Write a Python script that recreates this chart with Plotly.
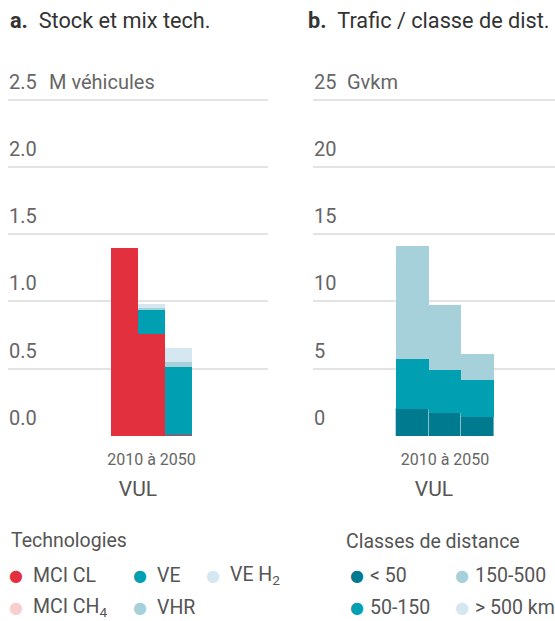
import plotly.graph_objects as go

# ---- data -------------------------------------------------------------
periods = [0, 1, 2]                      # 2010, intermediate step, 2050
period_label = "2010 à 2050"
segment = "VUL"

# a. fleet by technology (million vehicles)
tech_names = ["MCI CL", "MCI CH<sub>4</sub>", "VE", "VHR", "VE H<sub>2</sub>"]
tech_colors = ["#e3303f", "#f8cfcf", "#009fb2", "#a7d1da", "#d5e7f0"]
mci_cl = [1.40, 0.76, 0.01]
mci_ch4 = [0.0, 0.0, 0.0]
ve = [0.0, 0.18, 0.51]
vhr = [0.0, 0.015, 0.037]
ve_h2 = [0.0, 0.03, 0.104]
tech_values = [mci_cl, mci_ch4, ve, vhr, ve_h2]

stock_ticks = [0, 0.5, 1, 1.5, 2, 2.5]
stock_ticktext = ["0.0", "0.5", "1.0", "1.5", "2.0", "2.5"]
stock_unit = "M véhicules"

# b. traffic by distance class (billion vehicle-km)
dist_names = ["< 50", "50-150", "150-500", "> 500 km"]
dist_colors = ["#007a8e", "#009fb2", "#a7d1da", "#d5e7f0"]
d_lt50 = [2.04, 1.74, 1.46]
d_50_150 = [3.73, 3.22, 2.75]
d_150_500 = [8.40, 4.82, 1.93]
d_gt500 = [0.0, 0.0, 0.0]
dist_values = [d_lt50, d_50_150, d_150_500, d_gt500]

traffic_ticks = [0, 5, 10, 15, 20, 25]
traffic_ticktext = ["0", "5", "10", "15", "20", "25"]
traffic_unit = "Gvkm"

# ---- styling ----------------------------------------------------------
FONT = "Roboto, Arial, sans-serif"
GRID = "#e3e3e3"
TICK_GREY = "#666666"
TEXT_GREY = "#555555"
W, H = 555, 621


def px_x(x):
    return x / W


def px_y(y):
    return 1 - y / H


fig = go.Figure()

for name, color, vals in zip(tech_names, tech_colors, tech_values):
    fig.add_trace(go.Bar(
        x=periods, y=vals, width=1, name=name,
        marker=dict(color=color, line=dict(width=0)),
        xaxis="x", yaxis="y", showlegend=False,
    ))

for i, (name, color, vals) in enumerate(zip(dist_names, dist_colors, dist_values)):
    line = dict(width=1, color="rgba(150,200,210,0.7)") if i == 0 else dict(width=0)
    fig.add_trace(go.Bar(
        x=periods, y=vals, width=1, name=name,
        marker=dict(color=color, line=line),
        xaxis="x2", yaxis="y2", showlegend=False,
    ))

# 0 sits at 436 px, 0.5 (or 5) step is ~67.3 px, axis runs up to 64 px
y_bottom_px, y_top_px = 436, 64.5
ydom = [px_y(y_bottom_px), px_y(y_top_px)]

common_x = dict(
    tickvals=[1], ticktext=[period_label],
    ticks="outside", ticklen=9, tickcolor="rgba(0,0,0,0)",
    showgrid=False, zeroline=False, showline=False, fixedrange=True,
    tickfont=dict(family=FONT, size=16, color=TICK_GREY),
    title=dict(text=segment, font=dict(family=FONT, size=21, color=TEXT_GREY), standoff=13),
)
common_y = dict(
    ticks="", showgrid=True, gridcolor=GRID, gridwidth=2,
    zeroline=False, showline=False, ticklabelposition="inside top",
    ticklabelshift=-4, ticklabelstandoff=-2,
    tickfont=dict(family=FONT, size=20, color=TICK_GREY),
    domain=ydom, fixedrange=True,
)

fig.update_layout(
    width=W, height=H,
    margin=dict(l=0, r=0, t=0, b=0),
    paper_bgcolor="white", plot_bgcolor="white",
    barmode="stack", bargap=0,
    font=dict(family=FONT, color=TEXT_GREY),
    showlegend=False,
    xaxis=dict(common_x, domain=[px_x(8), px_x(268)], range=[-4.256, 5.268], anchor="y"),
    xaxis2=dict(common_x, domain=[px_x(313), px_x(555)], range=[-3.037, 4.363], anchor="y2"),
    yaxis=dict(common_y, range=[0, 2.76], tickvals=stock_ticks, ticktext=stock_ticktext, anchor="x"),
    yaxis2=dict(common_y, range=[0, 27.6], tickvals=traffic_ticks, ticktext=traffic_ticktext, anchor="x2"),
)

annotations = []

# unit labels next to the top tick of each value axis
for yref, yval, unit, x in [("y", stock_ticks[-1], stock_unit, 47),
                            ("y2", traffic_ticks[-1], traffic_unit, 345)]:
    annotations.append(dict(
        x=px_x(x), y=yval, xref="paper", yref=yref, text=unit,
        showarrow=False, xanchor="left", yanchor="middle", yshift=18,
        font=dict(family=FONT, size=20, color=TICK_GREY),
    ))


def text_at(x, y, text, size=19.5, color=TEXT_GREY):
    annotations.append(dict(
        x=px_x(x), y=px_y(y), xref="paper", yref="paper", text=text,
        showarrow=False, xanchor="left", yanchor="middle",
        font=dict(family=FONT, size=size, color=color),
    ))


def dot_at(x, y, color):
    annotations.append(dict(
        x=px_x(x), y=px_y(y), xref="paper", yref="paper", text="●",
        showarrow=False, xanchor="center", yanchor="middle",
        font=dict(family="DejaVu Sans", size=16, color=color),
    ))


# panel titles
text_at(8, 20, "<b>a.</b>\u00a0\u00a0Stock et mix tech.", size=21.7, color="#333333")
text_at(306, 20, "<b>b.</b>\u00a0\u00a0Trafic / classe de dist.", size=21.7, color="#333333")

# technology legend
text_at(9, 540, "Technologies")
tech_slots = [(16, 575), (16, 607), (140, 575), (140, 607), (213, 575)]
for (x, y), name, color in zip(tech_slots, tech_names, tech_colors):
    dot_at(x, y, color)
    text_at(x + 15, y, name)

# distance-class legend
text_at(344, 541, "Classes de distance")
dist_slots = [(357, 575), (357, 607), (462, 575), (462, 607)]
for (x, y), name, color in zip(dist_slots, dist_names, dist_colors):
    dot_at(x, y, color)
    text_at(x + 11, y, name)

fig.update_layout(annotations=annotations)

fig.write_html("out.html")
